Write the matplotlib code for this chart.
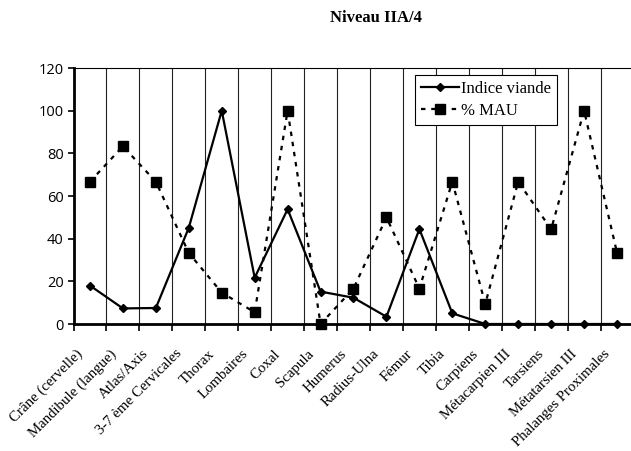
import numpy as np
import matplotlib.pyplot as plt
from matplotlib.transforms import ScaledTranslation

# categories (skeletal parts) and the two series
parts = ["Crâne (cervelle)", "Mandibule (langue)", "Atlas/Axis",
         "3-7 ème Cervicales", "Thorax", "Lombaires", "Coxal", "Scapula",
         "Humerus", "Radius-Ulna", "Fémur", "Tibia", "Carpiens",
         "Métacarpien III", "Tarsiens", "Métatarsien III",
         "Phalanges Proximales"]
indice_viande = [18.0, 7.3, 7.5, 45.1, 100.0, 21.7, 53.8, 15.2, 12.3, 3.4,
                 44.5, 5.0, 0.0, 0.0, 0.0, 0.0, 0.0]
mau = [66.7, 83.3, 66.7, 33.3, 14.7, 5.5, 100.0, 0.0, 16.6, 50.0, 16.6,
       66.7, 9.4, 66.7, 44.4, 100.0, 33.4]
y_ticks = [0, 20, 40, 60, 80, 100, 120]

serif = ["Liberation Serif", "DejaVu Serif"]


def main():
    fig = plt.figure(figsize=(6.31, 4.51), dpi=100)
    W, H = 631, 451
    left, right, bottom, top = 73.5, 633.5, 324, 68
    ax = fig.add_axes([left / W, 1 - bottom / H, (right - left) / W, (bottom - top) / H])

    x = np.arange(len(parts))
    ax.plot(x, indice_viande, color="black", lw=1.6, marker="D", ms=4.5,
            label="Indice viande", zorder=4, clip_on=False)
    ax.plot(x, mau, color="black", lw=1.6, ls=(0, (2, 2.6)), marker="s",
            ms=6.5, label="% MAU", zorder=3, clip_on=False)

    ax.set_xlim(-0.5, len(parts) - 0.5)
    ax.set_ylim(0, 120)

    # category boundaries: ticks + vertical gridlines
    ax.set_xticks(np.arange(len(parts) + 1) - 0.5)
    ax.set_xticklabels([])
    ax.tick_params(axis="x", which="major", direction="out", length=5,
                   width=1.2, color="black")
    ax.grid(axis="x", which="major", color="#222222", lw=0.8)
    ax.set_axisbelow(True)

    # labels at category centres
    ax.set_xticks(x, minor=True)
    ax.set_xticklabels(parts, minor=True, rotation=45, ha="right",
                       va="center", rotation_mode="anchor",
                       fontfamily=serif, fontsize=10.7)
    ax.tick_params(axis="x", which="minor", length=0, pad=20)
    offset = ScaledTranslation(-9 / 100, 0, fig.dpi_scale_trans)
    for lab in ax.xaxis.get_minorticklabels():
        lab.set_transform(lab.get_transform() + offset)

    ax.set_yticks(y_ticks)
    ax.tick_params(axis="y", direction="out", length=4, width=1.2,
                   labelsize=10.5, pad=3)
    for lab in ax.get_yticklabels():
        lab.set_fontfamily(["Open Sans", "DejaVu Sans"])

    ax.spines["left"].set_linewidth(2)
    ax.spines["bottom"].set_linewidth(2)
    ax.spines["top"].set_linewidth(0.8)
    ax.spines["right"].set_visible(False)

    leg = ax.legend(loc="upper left", bbox_to_anchor=((415 - left) / (right - left), (324 - 75) / 256),
                    prop={"family": serif, "size": 12}, frameon=True,
                    fancybox=False, edgecolor="black", framealpha=1,
                    handlelength=2.3, handletextpad=0.1, borderpad=0.35,
                    labelspacing=0.35, borderaxespad=0)
    leg.get_frame().set_linewidth(0.8)
    leg.set_zorder(5)

    fig.text(376 / W, 1 - 18 / H, "Niveau IIA/4", ha="center", va="center",
             fontfamily=serif, fontweight="bold", fontsize=12)

    fig.savefig("out.png", dpi=100)


if __name__ == "__main__":
    main()
